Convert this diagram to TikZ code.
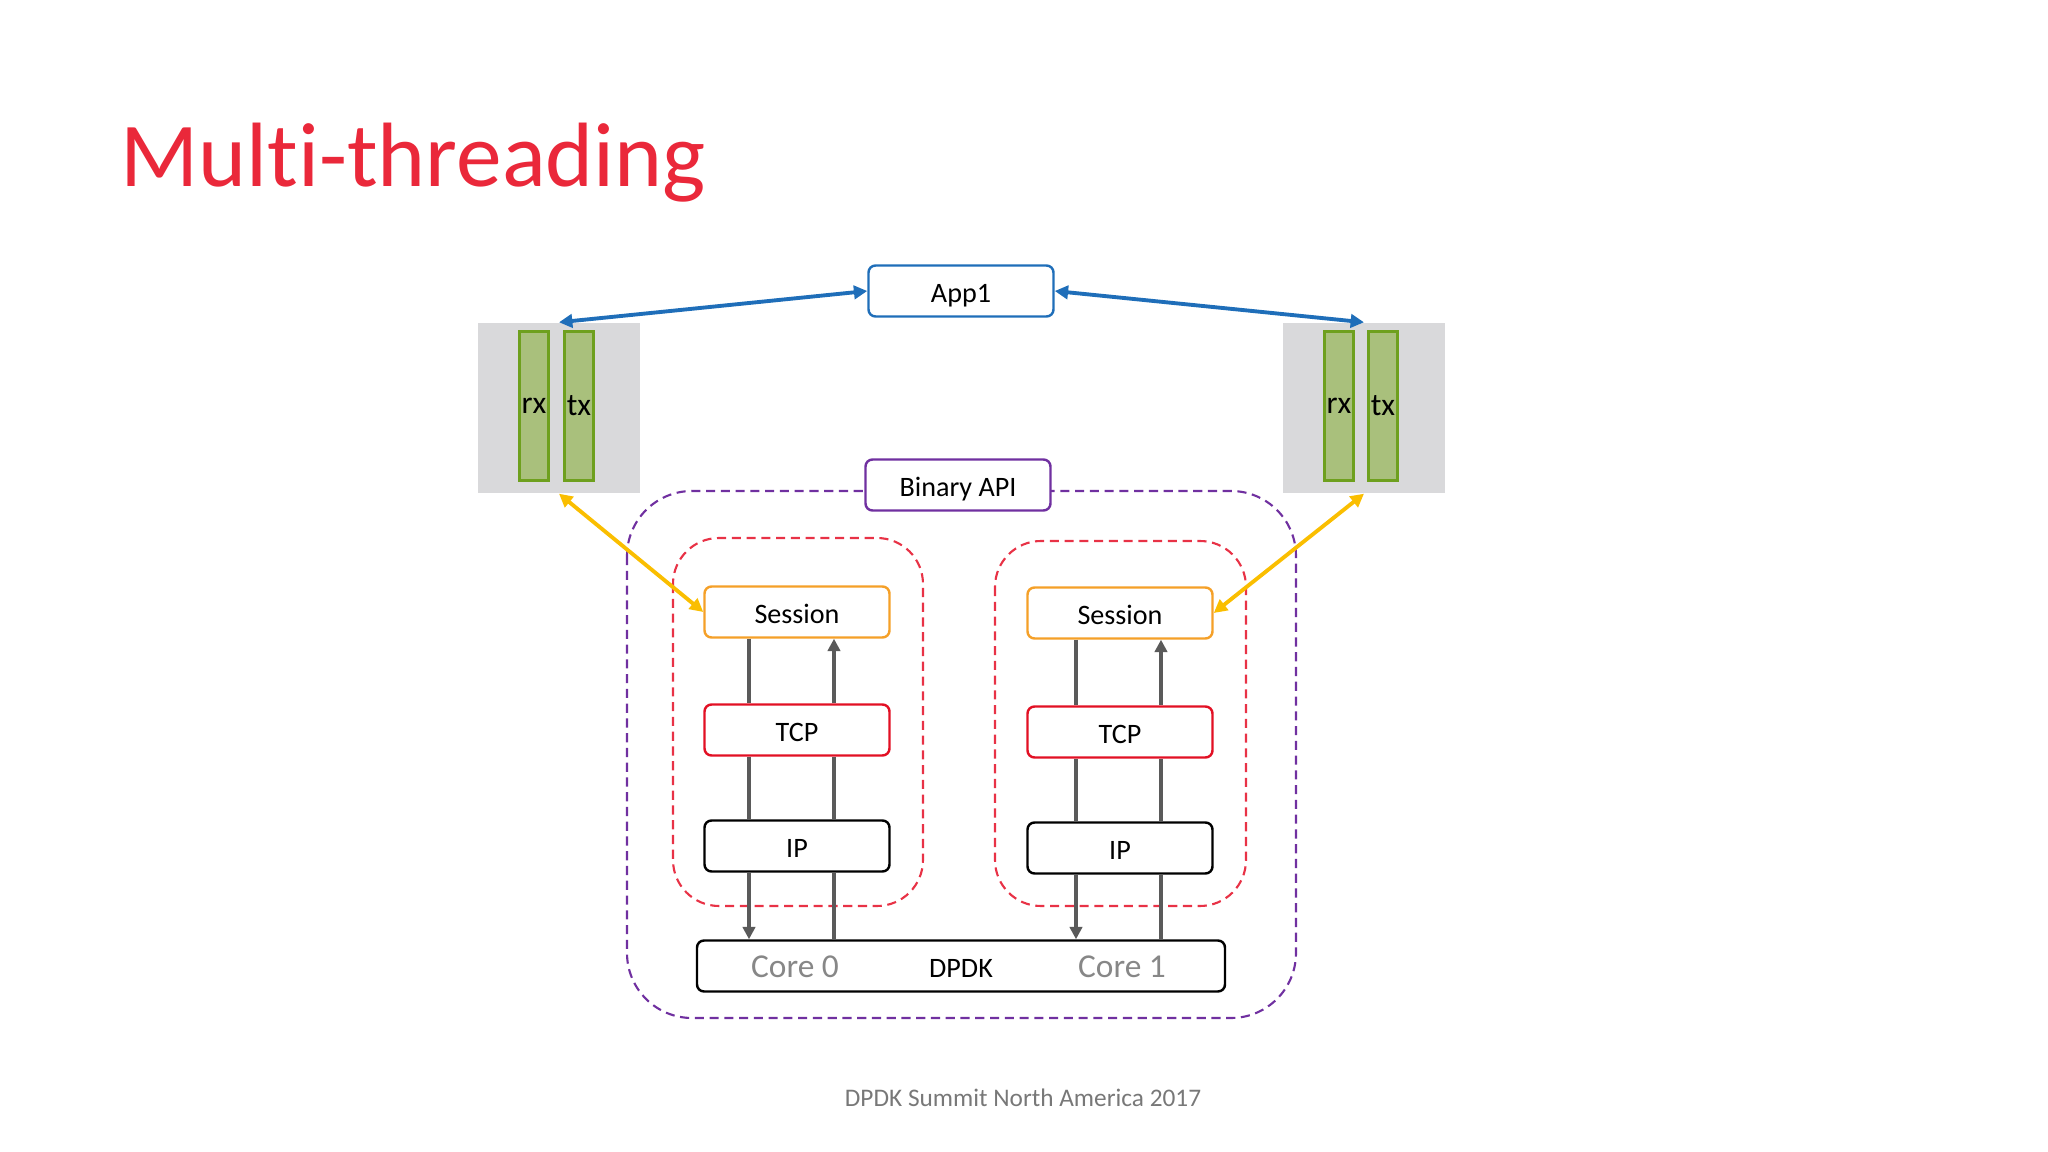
\documentclass[tikz,border=0pt]{standalone}
\usepackage{fontspec}
\setmainfont[Ligatures=NoCommon]{Carlito}
\usetikzlibrary{arrows.meta}
\definecolor{titlered}{RGB}{234,40,58}
\definecolor{appblue}{RGB}{31,110,185}
\definecolor{apipurple}{RGB}{112,48,160}
\definecolor{sessorange}{RGB}{245,160,40}
\definecolor{tcpred}{RGB}{226,16,36}
\definecolor{zonered}{RGB}{232,50,70}
\definecolor{linkyellow}{RGB}{250,190,0}
\definecolor{flowgray}{RGB}{90,90,90}
\definecolor{qgray}{RGB}{217,217,219}
\definecolor{barfill}{RGB}{169,192,124}
\definecolor{barline}{RGB}{110,160,30}
\definecolor{coregray}{RGB}{135,135,135}
\definecolor{footgray}{RGB}{120,120,120}
\begin{document}
\begin{tikzpicture}[
	box/.style={draw, rounded corners=2pt, fill=white, line width=0.7pt, minimum width=1.85cm, minimum height=0.51cm, text height=0.63em, text depth=0pt, font=\fontsize{8}{10}\selectfont},
	queue/.style={fill=qgray, minimum width=1.62cm, minimum height=1.70cm},
	bar/.style={draw=barline, fill=barfill, line width=0.7pt, minimum width=0.29cm, minimum height=1.49cm, inner sep=0pt, font=\fontsize{9}{10}\selectfont},
	core/.style={text=coregray, text height=0.63em, text depth=0pt, font=\fontsize{9.5}{11}\selectfont},
	link/.style={line width=1.1pt, {Triangle[length=3.8pt,width=3.8pt]}-{Triangle[length=3.8pt,width=3.8pt]}},
	flow/.style={draw=flowgray, line width=1pt},
	zone/.style={dash pattern=on 2.6pt off 1.6pt, line width=0.6pt}]
	\useasboundingbox (0,0) rectangle (20.48,-11.52);
	\node[anchor=base west, inner sep=0pt, text=titlered, font=\fontsize{26}{30}\selectfont] (title) at (1.20,-1.87) {Mult\kern0pt i-threading};
	
	\node[box, draw=appblue] (app) at (9.61,-2.91) {App1};
	\node[queue] (qL) at (5.59,-4.08) {};
	\node[bar] (rxL) at (5.34,-4.06) {rx};
	\node[bar] (txL) at (5.79,-4.06) {tx};
	\node[queue] (qR) at (13.64,-4.08) {};
	\node[bar] (rxR) at (13.39,-4.06) {rx};
	\node[bar] (txR) at (13.83,-4.06) {tx};
	
	\draw[zone, draw=apipurple, rounded corners=0.65cm] (6.27,-4.91) rectangle (12.96,-10.18);
	\draw[zone, draw=zonered, rounded corners=0.46cm] (6.73,-5.38) rectangle (9.23,-9.06);
	\draw[zone, draw=zonered, rounded corners=0.46cm] (9.95,-5.41) rectangle (12.46,-9.06);
	\node[box, draw=apipurple] (api) at (9.58,-4.85) {Binary API};
	
	\node[box, draw=sessorange] (sessL) at (7.97,-6.12) {Session};
	\node[box, draw=tcpred] (tcpL) at (7.97,-7.30) {TCP};
	\node[box, draw=black] (ipL) at (7.97,-8.46) {IP};
	\node[box, draw=sessorange] (sessR) at (11.20,-6.13) {Session};
	\node[box, draw=tcpred] (tcpR) at (11.20,-7.32) {TCP};
	\node[box, draw=black] (ipR) at (11.20,-8.48) {IP};
	\node[box, draw=black, minimum width=5.28cm] (dpdk) at (9.61,-9.66) {DPDK};
	\node[core] (core0) at (7.95,-9.66) {Core 0};
	\node[core] (core1) at (11.22,-9.66) {Core 1};
	
	\draw[link, draw=appblue] (qL.north) -- (app.west);
	\draw[link, draw=appblue] (app.east) -- (qR.north);
	\draw[link, draw=linkyellow] (qL.south) -- (sessL.west);
	\draw[link, draw=linkyellow] (qR.south) -- (sessR.east);
	
	\foreach \s/\p/\q in {L/-0.48/0.37, R/-0.44/0.41}{
		\draw[flow] ([xshift=\p cm]sess\s.south) -- ([xshift=\p cm]tcp\s.north)
			([xshift=\p cm]tcp\s.south) -- ([xshift=\p cm]ip\s.north);
		\draw[flow, -{Triangle[length=3.5pt,width=3.5pt]}] ([xshift=\p cm]ip\s.south) -- ([xshift=\p cm]ip\s.south |- dpdk.north);
		\draw[flow] ([xshift=\q cm]ip\s.south |- dpdk.north) -- ([xshift=\q cm]ip\s.south)
			([xshift=\q cm]ip\s.north) -- ([xshift=\q cm]tcp\s.south);
		\draw[flow, -{Triangle[length=3.5pt,width=3.5pt]}] ([xshift=\q cm]tcp\s.north) -- ([xshift=\q cm]sess\s.south);
	}
	
	\node[text=footgray, font=\fontsize{7.2}{9}\selectfont] (foot) at (10.23,-10.98) {DPDK Summit North America 2017};
\end{tikzpicture}
\end{document}
